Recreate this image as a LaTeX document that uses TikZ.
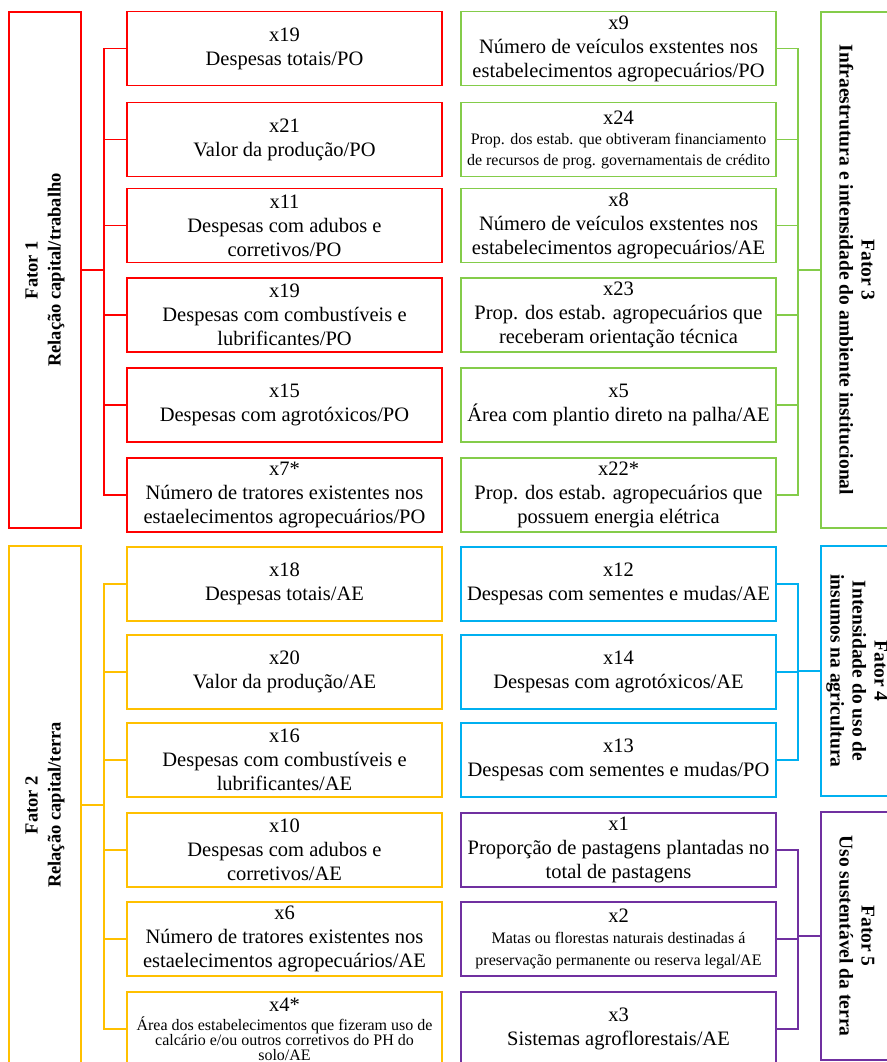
\documentclass[tikz,border=0pt]{standalone}
\usepackage{fontspec}
\setmainfont{Liberation Serif}

\definecolor{fRed}{HTML}{FF0000}
\definecolor{fGreen}{HTML}{84CC4A}
\definecolor{fGold}{HTML}{FFC000}
\definecolor{fBlue}{HTML}{00B0F0}
\definecolor{fPurple}{HTML}{7030A0}

\newcommand{\boxfont}{\fontsize{20.5}{24}\selectfont}
\newcommand{\smalltxt}{\fontsize{16}{19}\selectfont}

\begin{document}
\begin{tikzpicture}[
    x=1pt, y=-1pt,
    % 變數方框
    var/.style={draw, line width=1.5pt, minimum width=315pt, minimum height=74pt,
        inner sep=0pt, align=center, font=\boxfont},
    % 因子方框 (旋轉文字)
    fator/.style={draw, line width=1.5pt, minimum height=72pt, inner sep=0pt,
        align=center, font=\fontsize{18.5}{23}\selectfont\bfseries},
    fatorR/.style={fator, rotate=-90, font=\fontsize{19.5}{22}\selectfont\bfseries},
    link/.style={line width=1.5pt},
]
    \useasboundingbox (0,0) rectangle (886,1062);

    % --- 定義座標參數 ---
    \def\xA{284.5}  % 左欄中心
    \def\xB{618.5}  % 右欄中心
    \def\xL{45}     % 左側因子
    \def\xR{857}    % 右側因子

    % 列高度 (從上到下)
    \def\yA{48.5}
    \def\yB{139.5}
    \def\yC{225.5}
    \def\yD{315}
    \def\yE{405}
    \def\yF{495}
    \def\yG{584}
    \def\yH{672}
    \def\yI{760}
    \def\yJ{850}
    \def\yK{939}
    \def\yM{1029}

    % 主幹線 x 位置
    \coordinate (tL) at (104,0);
    \coordinate (tR) at (798,0);

    % --- 1. Fator 1 (紅) ---
    \node[fator, draw=fRed, rotate=90, minimum width=516pt] (f1) at (\xL,270)
        {Fator 1\\Relação capital/trabalho};

    \node[var, draw=fRed] (r1) at (\xA,\yA) {x19\\Despesas totais/PO};
    \node[var, draw=fRed] (r2) at (\xA,\yB) {x21\\Valor da produção/PO};
    \node[var, draw=fRed] (r3) at (\xA,\yC) {x11\\Despesas com adubos e\\corretivos/PO};
    \node[var, draw=fRed] (r4) at (\xA,\yD) {x19\\Despesas com combustíveis e\\lubrificantes/PO};
    \node[var, draw=fRed] (r5) at (\xA,\yE) {x15\\Despesas com agrotóxicos/PO};
    \node[var, draw=fRed] (r6) at (\xA,\yF) {x7*\\Número de tratores existentes nos\\estaelecimentos agropecuários/PO};

    \draw[link, fRed] (r1.west) -- (r1.west -| tL) -- (r6.west -| tL) -- (r6.west);
    \foreach \n in {r2,r3,r4,r5}
        \draw[link, fRed] (\n.west) -- (\n.west -| tL);
    \draw[link, fRed] (f1.south) -- (f1.south -| tL);

    % --- 2. Fator 2 (黃) ---
    \node[fator, draw=fGold, rotate=90, minimum width=518pt] (f2) at (\xL,805)
        {Fator 2\\Relação capital/terra};

    \node[var, draw=fGold] (y1) at (\xA,\yG) {x18\\Despesas totais/AE};
    \node[var, draw=fGold] (y2) at (\xA,\yH) {x20\\Valor da produção/AE};
    \node[var, draw=fGold] (y3) at (\xA,\yI) {x16\\Despesas com combustíveis e\\lubrificantes/AE};
    \node[var, draw=fGold] (y4) at (\xA,\yJ) {x10\\Despesas com adubos e\\corretivos/AE};
    \node[var, draw=fGold] (y5) at (\xA,\yK) {x6\\Número de tratores existentes nos\\estaelecimentos agropecuários/AE};
    \node[var, draw=fGold] (y6) at (\xA,\yM) {x4*\\[-5pt]\smalltxt Área dos estabelecimentos que fizeram uso de\\[-9pt]
        \smalltxt calcário e/ou outros corretivos do PH do\\[-9pt]\smalltxt solo/AE};

    \draw[link, fGold] (y1.west) -- (y1.west -| tL) -- (y6.west -| tL) -- (y6.west);
    \foreach \n in {y2,y3,y4,y5}
        \draw[link, fGold] (\n.west) -- (\n.west -| tL);
    \draw[link, fGold] (f2.south) -- (f2.south -| tL);

    % --- 3. Fator 3 (綠) ---
    \node[fatorR, draw=fGreen, minimum width=516pt] (f3) at (\xR,270)
        {Fator 3\\Infraestrutura e intensidade do ambiente institucional};

    \node[var, draw=fGreen] (g1) at (\xB,\yA) {x9\\Número de veículos exstentes nos\\estabelecimentos agropecuários/PO};
    \node[var, draw=fGreen] (g2) at (\xB,\yB) {x24\\[-4pt]\smalltxt Prop. dos estab. que obtiveram financiamento\\[-3pt]
        \smalltxt de recursos de prog. governamentais de crédito};
    \node[var, draw=fGreen] (g3) at (\xB,\yC) {x8\\Número de veículos exstentes nos\\estabelecimentos agropecuários/AE};
    \node[var, draw=fGreen] (g4) at (\xB,\yD) {x23\\Prop. dos estab. agropecuários que\\receberam orientação técnica};
    \node[var, draw=fGreen] (g5) at (\xB,\yE) {x5\\Área com plantio direto na palha/AE};
    \node[var, draw=fGreen] (g6) at (\xB,\yF) {x22*\\Prop. dos estab. agropecuários que\\possuem energia elétrica};

    \draw[link, fGreen] (g1.east) -- (g1.east -| tR) -- (g6.east -| tR) -- (g6.east);
    \foreach \n in {g2,g3,g4,g5}
        \draw[link, fGreen] (\n.east) -- (\n.east -| tR);
    \draw[link, fGreen] (f3.south) -- (f3.south -| tR);

    % --- 4. Fator 4 (藍) ---
    \node[fatorR, draw=fBlue, minimum width=250pt] (f4) at (\xR,671)
        {Fator 4\\Intensidade do uso de\\insumos na agricultura};

    \node[var, draw=fBlue] (b1) at (\xB,\yG) {x12\\Despesas com sementes e mudas/AE};
    \node[var, draw=fBlue] (b2) at (\xB,\yH) {x14\\Despesas com agrotóxicos/AE};
    \node[var, draw=fBlue] (b3) at (\xB,\yI) {x13\\Despesas com sementes e mudas/PO};

    \draw[link, fBlue] (b1.east) -- (b1.east -| tR) -- (b3.east -| tR) -- (b3.east);
    \draw[link, fBlue] (b2.east) -- (b2.east -| tR);
    \draw[link, fBlue] (f4.south) -- (f4.south -| tR);

    % --- 5. Fator 5 (紫) ---
    \node[fatorR, draw=fPurple, minimum width=248pt] (f5) at (\xR,936)
        {Fator 5\\Uso sustentável da terra};

    \node[var, draw=fPurple] (p1) at (\xB,\yJ) {x1\\Proporção de pastagens plantadas no\\total de pastagens};
    \node[var, draw=fPurple] (p2) at (\xB,\yK) {x2\\[-3pt]\smalltxt Matas ou florestas naturais destinadas á\\[-2pt]
        \smalltxt preservação permanente ou reserva legal/AE};
    \node[var, draw=fPurple] (p3) at (\xB,\yM) {x3\\Sistemas agroflorestais/AE};

    \draw[link, fPurple] (p1.east) -- (p1.east -| tR) -- (p3.east -| tR) -- (p3.east);
    \draw[link, fPurple] (p2.east) -- (p2.east -| tR);
    \draw[link, fPurple] (f5.south) -- (f5.south -| tR);

\end{tikzpicture}
\end{document}
